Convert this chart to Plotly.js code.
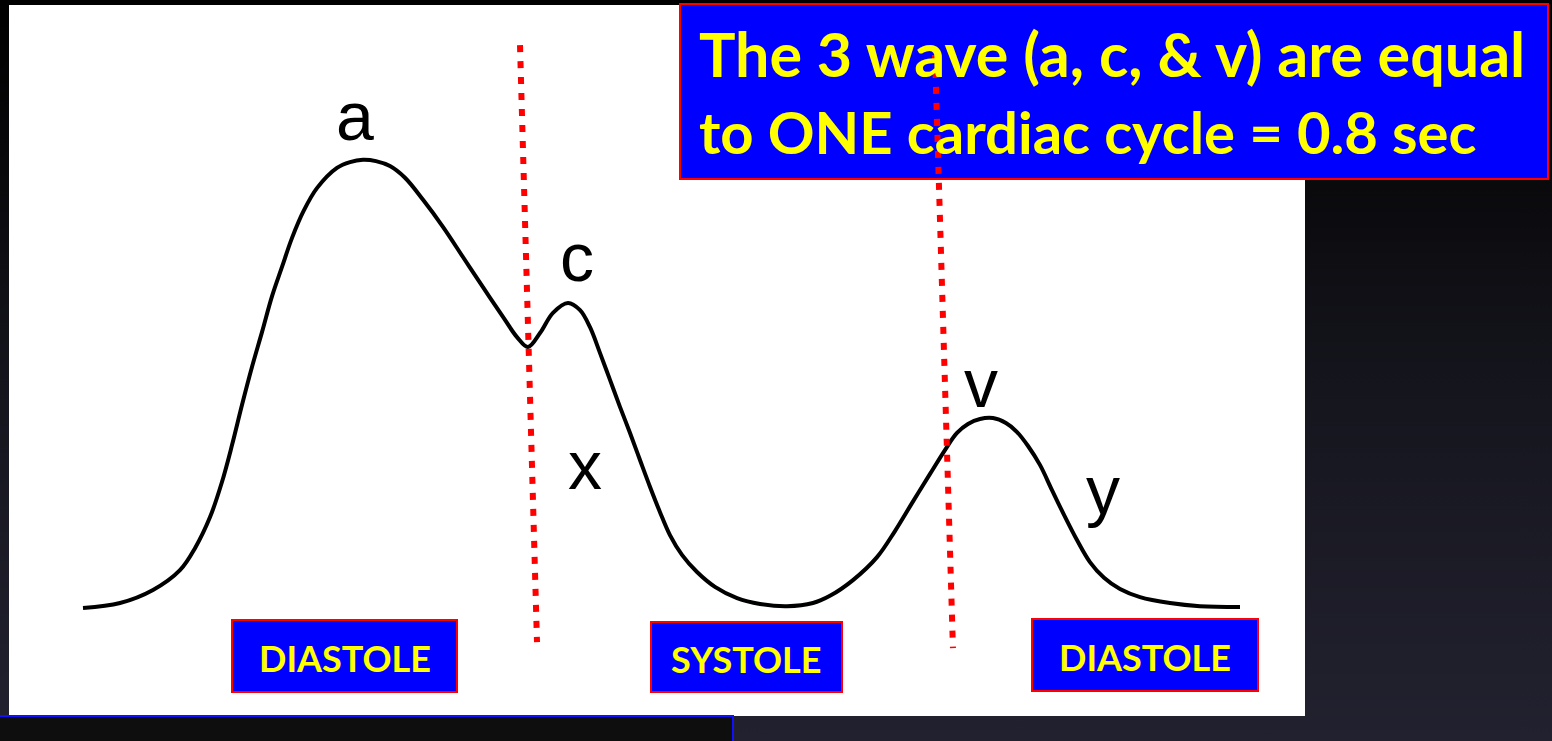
<!DOCTYPE html>
<html>
<head>
<meta charset="utf-8">
<script src="https://cdn.plot.ly/plotly-3.0.1.min.js"></script>
<style>
html,body{margin:0;padding:0;width:1552px;height:741px;overflow:hidden;
background:linear-gradient(to bottom,#000000 0%,#0a0a0d 25%,#16161f 55%,#22212f 100%);}
#chart{width:1552px;height:741px;}
</style>
</head>
<body>
<div id="chart"></div>
<script>
// ---- DATA: atrial / venous pressure wave over one cardiac cycle (arbitrary units) ----
const time = [0, 3.20, 6.05, 8.38, 9.68, 10.98, 12.01, 12.88, 13.74, 14.61, 15.47, 16.34, 17.20, 18.06,
  19.10, 20.22, 21.95, 23.08, 24.20, 25.32, 26.53, 27.83, 29.39, 31.11, 32.84, 34.57, 36.30, 37.51,
  38.46, 39.50, 40.62, 41.92, 42.96, 43.82, 44.68, 45.55, 46.41, 47.28, 48.14, 49.01, 49.87, 50.73,
  51.77, 53.07, 54.62, 56.53, 58.51, 60.85, 63.09, 64.56, 66.55, 68.63, 70.18, 71.65, 73.21, 74.50,
  75.54, 76.49, 77.53, 78.65, 79.77, 80.73, 81.68, 82.71, 83.75, 84.79, 85.91, 87.03, 88.25, 89.63,
  91.36, 93.95, 96.54, 100];
const pressure = [0, 0.11, 0.40, 0.84, 1.33, 2.02, 2.80, 3.62, 4.51, 5.36, 6.13, 6.93, 7.58, 8.22,
  8.84, 9.33, 9.78, 9.91, 9.96, 9.93, 9.82, 9.56, 9.07, 8.47, 7.80, 7.13, 6.47, 6.02,
  5.80, 6.11, 6.56, 6.78, 6.62, 6.24, 5.67, 5.07, 4.47, 3.89, 3.29, 2.69, 2.13, 1.62,
  1.18, 0.80, 0.47, 0.22, 0.09, 0.04, 0.11, 0.27, 0.62, 1.13, 1.71, 2.33, 2.98, 3.51,
  3.89, 4.09, 4.20, 4.22, 4.11, 3.91, 3.60, 3.18, 2.62, 2.07, 1.51, 1.02, 0.67, 0.42,
  0.24, 0.11, 0.04, 0.02];

// wave labels
const waveLabels = ['a', 'c', 'x', 'v', 'y'];
const waveLabelTime = [23.51, 42.70, 43.39, 77.61, 88.20];
const waveLabelPressure = [10.93, 7.80, 3.18, 5.00, 2.62];

// phase dividers (slightly slanted dotted lines)
const dividerTimeTop = [37.77, 73.64];
const dividerTimeBottom = [39.24, 75.19];
const dividerPressureTop = [12.51, 12.29];
const dividerPressureBottom = [-0.76, -0.89];

// phase labels and headline
const phaseLabels = ['DIASTOLE', 'SYSTOLE', 'DIASTOLE'];
const headline = ['The 3 wave (a, c, & v) are equal', 'to ONE cardiac cycle = 0.8 sec'];

// ---- LAYOUT helpers ----
const W = 1552, H = 741;
const X0PX = 83, XSCALE = 11.57, Y0PX = 608, YSCALE = 45;
const xRange = [-X0PX / XSCALE, (W - X0PX) / XSCALE];
const yRange = [-(H - Y0PX) / YSCALE, Y0PX / YSCALE];
const px = v => v / W;
const py = v => 1 - v / H;
function rect(x0, y0, x1, y1, fill, line, lw) {
  return {type: 'rect', xref: 'paper', yref: 'paper', layer: 'below',
    x0: px(x0), x1: px(x1), y0: py(y1), y1: py(y0),
    fillcolor: fill, line: {color: line || fill, width: lw || 0}};
}

const phaseBoxes = [[232, 620, 457, 692], [651, 622, 842, 692], [1032, 619, 1258, 691]];

const shapes = [
  rect(9, 5, 1305, 716, '#ffffff'),
  rect(-3, 716, 733, 745, '#0e0e0e', '#1010ff', 2),
  rect(680, 4, 1548, 179, '#0000ff', '#ff0000', 2)
];
phaseBoxes.forEach(b => shapes.push(rect(b[0], b[1], b[2], b[3], '#0000ff', '#ff0000', 2)));

const traces = [{
  x: time, y: pressure, type: 'scatter', mode: 'lines',
  line: {color: '#000000', width: 4, shape: 'spline', smoothing: 1.0},
  hoverinfo: 'skip'
}];
for (let i = 0; i < dividerTimeTop.length; i++) {
  traces.push({
    x: [dividerTimeTop[i], dividerTimeBottom[i]],
    y: [dividerPressureTop[i], dividerPressureBottom[i]],
    type: 'scatter', mode: 'lines',
    line: {color: '#ff0000', width: 6, dash: '7px,9px'},
    hoverinfo: 'skip'
  });
}

const annotations = [];
waveLabels.forEach((t, i) => annotations.push({
  text: t, x: waveLabelTime[i], y: waveLabelPressure[i], xref: 'x', yref: 'y',
  showarrow: false, xanchor: 'center', yanchor: 'middle',
  font: {family: 'Liberation Sans, Arial, sans-serif', size: 68, color: '#000000'}
}));
phaseLabels.forEach((t, i) => {
  const b = phaseBoxes[i];
  annotations.push({
    text: t, x: px((b[0] + b[2]) / 2), y: py((b[1] + b[3]) / 2 + 2), xref: 'paper', yref: 'paper',
    showarrow: false, xanchor: 'center', yanchor: 'middle',
    font: {family: 'Lato, sans-serif', size: 36, color: '#ffff00', weight: 700}
  });
});
const headlineY = [53, 131];
const headlineSize = [61, 58];
headline.forEach((t, i) => annotations.push({
  text: t, x: px(697), y: py(headlineY[i]), xref: 'paper', yref: 'paper',
  showarrow: false, xanchor: 'left', yanchor: 'middle', align: 'left',
  font: {family: 'Lato, sans-serif', size: headlineSize[i], color: '#ffff00', weight: 700}
}));

const layout = {
  width: W, height: H,
  margin: {l: 0, r: 0, t: 0, b: 0, pad: 0},
  paper_bgcolor: 'rgba(0,0,0,0)', plot_bgcolor: 'rgba(0,0,0,0)',
  showlegend: false, hovermode: false,
  xaxis: {range: xRange, visible: false, fixedrange: true},
  yaxis: {range: yRange, visible: false, fixedrange: true},
  shapes: shapes, annotations: annotations
};

Plotly.newPlot('chart', traces, layout, {displayModeBar: false, staticPlot: true});
</script>
</body>
</html>
